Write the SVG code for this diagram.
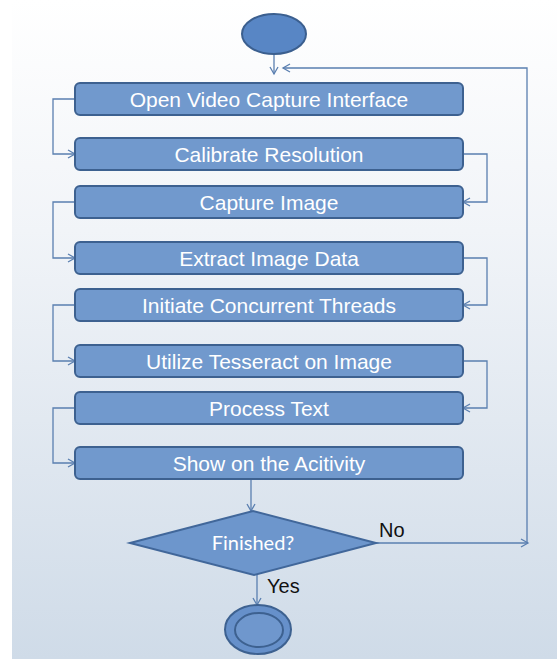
<svg xmlns="http://www.w3.org/2000/svg" width="557" height="659" viewBox="0 0 557 659">
<defs>
<linearGradient id="bg" x1="0" y1="0" x2="0" y2="1">
<stop offset="0" stop-color="#ffffff"/>
<stop offset="0.35" stop-color="#f1f4f8"/>
<stop offset="1" stop-color="#cfdbe8"/>
</linearGradient>
<marker id="arr" markerWidth="10" markerHeight="10" refX="8" refY="5" orient="auto" markerUnits="userSpaceOnUse">
<path d="M1,1 L8,5 L1,9" fill="none" stroke="#5a7fb0" stroke-width="1.3"/>
</marker>
<style>
.box{fill:#7199cd;stroke:#3d6190;stroke-width:2}
.lbl{font-family:"Liberation Sans",Arial,sans-serif;font-size:21px;fill:#ffffff;text-anchor:middle}
.con{fill:none;stroke:#5a7fb0;stroke-width:1.3}
.blk{font-family:"Liberation Sans",Arial,sans-serif;font-size:20px;fill:#111111}
</style>
</defs>
<rect x="0" y="0" width="557" height="659" fill="#ffffff"/>
<rect x="12" y="0" width="545" height="659" fill="url(#bg)"/>

<g id="connectors">
<path class="con" d="M274,54 V74" marker-end="url(#arr)"/>
<path class="con" d="M75,99 H53 V154 H75" marker-end="url(#arr)"/>
<path class="con" d="M463,154 H487 V202 H463" marker-end="url(#arr)"/>
<path class="con" d="M75,202 H53 V258 H75" marker-end="url(#arr)"/>
<path class="con" d="M463,258 H487 V305 H463" marker-end="url(#arr)"/>
<path class="con" d="M75,305 H53 V361 H75" marker-end="url(#arr)"/>
<path class="con" d="M463,361 H487 V408 H463" marker-end="url(#arr)"/>
<path class="con" d="M75,408 H53 V463 H75" marker-end="url(#arr)"/>
<path class="con" d="M251,479 V511" marker-end="url(#arr)"/>
<path class="con" d="M376,543 H528" marker-end="url(#arr)"/>
<path class="con" d="M527,543 V68 H283" marker-end="url(#arr)"/>
<path class="con" d="M257,574 V605" marker-end="url(#arr)"/>
</g>

<g id="start">
<ellipse cx="274" cy="34" rx="32" ry="20" fill="#5886c5" stroke="#3b5f8f" stroke-width="2"/>
</g>

<g id="n1"><rect class="box" x="75" y="83" width="388" height="32" rx="5"/><text class="lbl" x="269" y="106.5">Open Video Capture Interface</text></g>
<g id="n2"><rect class="box" x="75" y="138" width="388" height="32" rx="5"/><text class="lbl" x="269" y="161.5">Calibrate Resolution</text></g>
<g id="n3"><rect class="box" x="75" y="186" width="388" height="32" rx="5"/><text class="lbl" x="269" y="209.5">Capture Image</text></g>
<g id="n4"><rect class="box" x="75" y="242" width="388" height="32" rx="5"/><text class="lbl" x="269" y="265.5">Extract Image Data</text></g>
<g id="n5"><rect class="box" x="75" y="289" width="388" height="32" rx="5"/><text class="lbl" x="269" y="312.5">Initiate Concurrent Threads</text></g>
<g id="n6"><rect class="box" x="75" y="345" width="388" height="32" rx="5"/><text class="lbl" x="269" y="368.5">Utilize Tesseract on Image</text></g>
<g id="n7"><rect class="box" x="75" y="392" width="388" height="32" rx="5"/><text class="lbl" x="269" y="415.5">Process Text</text></g>
<g id="n8"><rect class="box" x="75" y="447" width="388" height="32" rx="5"/><text class="lbl" x="269" y="470.5">Show on the Acitivity</text></g>

<g id="decision">
<polygon points="130,543 253,511 376,543 254,575" fill="#6d96cc" stroke="#41679a" stroke-width="2"/>
<text x="253" y="550" font-family="Lato,'Open Sans',sans-serif" font-size="20" fill="#ffffff" text-anchor="middle">Finished?</text>
</g>
<text class="blk" x="379" y="537">No</text>
<text class="blk" x="267" y="593">Yes</text>

<g id="end">
<ellipse cx="258" cy="629.5" rx="33" ry="24.5" fill="#6690ca" stroke="#3d6190" stroke-width="2"/>
<ellipse cx="259" cy="630" rx="24" ry="17" fill="#6f97cd" stroke="#3d6190" stroke-width="2"/>
</g>
</svg>
